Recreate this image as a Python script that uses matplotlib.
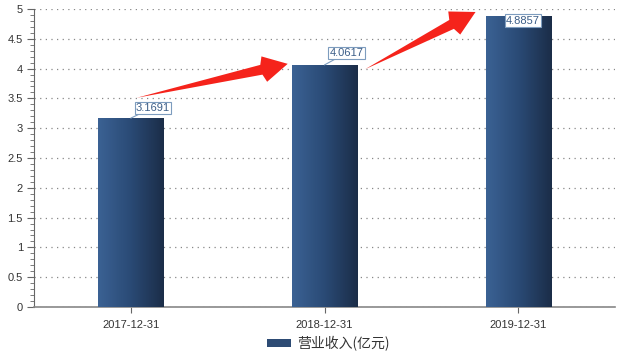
import numpy as np
import matplotlib
matplotlib.use("Agg")
import matplotlib.pyplot as plt
from matplotlib.patches import Polygon, Rectangle
from matplotlib.ticker import MultipleLocator

plt.rcParams['font.family'] = ['Liberation Sans', 'Noto Sans CJK SC', 'DejaVu Sans']

dates = ["2017-12-31", "2018-12-31", "2019-12-31"]
revenue = [3.1691, 4.0617, 4.8857]
series_name = "营业收入(亿元)"
# arrows: (x0, y0, x1, y1) in data units
arrows = [(0.03, 3.51, 0.81, 4.08), (1.21, 3.99, 1.78, 4.95)]

fig = plt.figure(figsize=(6.4, 3.55), dpi=100)
ax = fig.add_axes([34 / 640, 48 / 355, 581 / 640, 298 / 355])
x = np.arange(len(dates))
bw = 0.336

# gradient bars
grad = np.linspace(0, 1, 256).reshape(1, -1)
cmap = matplotlib.colors.LinearSegmentedColormap.from_list("b", ["#3b6294", "#2a4a75", "#1b2d48"])
bars = ax.bar(x, revenue, width=bw, color="none", zorder=3)
for b in bars:
    x0, y0 = b.get_x(), b.get_y()
    im = ax.imshow(grad, cmap=cmap, aspect="auto", extent=[x0, x0 + b.get_width(), y0, y0 + b.get_height()], zorder=3)
    im.set_clip_path(b)

ax.set_xlim(-0.5, len(dates) - 0.5)
ax.set_ylim(0, 5)

# grid & axes
ax.yaxis.set_major_locator(MultipleLocator(0.5))
ax.yaxis.set_minor_locator(MultipleLocator(0.1))
ax.grid(axis="y", which="major", linestyle=(0, (1, 3.5)), color="#888888", linewidth=0.9, zorder=0)
for s in ["top", "right"]:
    ax.spines[s].set_visible(False)
ax.spines["left"].set_color("#666666")
ax.spines["bottom"].set_color("#888888")
ax.spines["bottom"].set_linewidth(1.2)
ax.set_xticks(x)
ax.set_xticklabels(dates)
ax.set_yticks(np.arange(0, 5.01, 0.5))
ax.set_yticklabels(["0", "0.5", "1", "1.5", "2", "2.5", "3", "3.5", "4", "4.5", "5"])
ax.tick_params(axis="x", length=4, color="#666666", labelsize=8, labelcolor="#333333", pad=5)
ax.tick_params(axis="y", which="major", length=5, color="#666666", labelsize=8, labelcolor="#333333", pad=3)
ax.tick_params(axis="y", which="minor", length=3, color="#666666")

# value labels
offsets = [(22, 10.5), (22, 12), (5, -4.7)]
for xi, v, (dx, dy) in zip(x, revenue, offsets):
    ax.annotate(f"{v:.4f}", xy=(xi, v), xytext=(dx * 0.72, dy * 0.72), textcoords="offset points",
                ha="center", va="center", fontsize=8, color="#3c5e88", zorder=6,
                bbox=dict(boxstyle="square,pad=0.1", fc="white", ec="#7d9cbe", lw=0.8),
                arrowprops=dict(arrowstyle="-", color="#7d9cbe", lw=0.8, shrinkA=0, shrinkB=0) if dy > 0 else None)

# red arrows
fig.canvas.draw()
for (xa, ya, xb, yb) in arrows:
    p0 = ax.transData.transform((xa, ya))
    p1 = ax.transData.transform((xb, yb))
    d = p1 - p0
    L = np.hypot(*d)
    u = d / L
    n = np.array([-u[1], u[0]])
    hl, hw, sw = 27, 13, 5
    base = p1 - u * hl
    pts = [p0, base - n * sw, base - n * hw + u * 3, p1, base + n * hw + u * 3, base + n * sw]
    ax.add_patch(Polygon(pts, closed=True, transform=None, fc="#f5231b", ec="none", zorder=5))

# legend
leg = ax.legend([Rectangle((0, 0), 1, 1, fc="#2d4b74")], [series_name], loc="center",
                bbox_to_anchor=(0.507, -0.122), frameon=False, fontsize=10, handlelength=1.7,
                handleheight=0.45, handletextpad=0.5, borderpad=0)
for t in leg.get_texts():
    t.set_color("#333333")
    t.set_fontfamily(["Noto Sans CJK SC"])

fig.savefig("out.png", dpi=100)
